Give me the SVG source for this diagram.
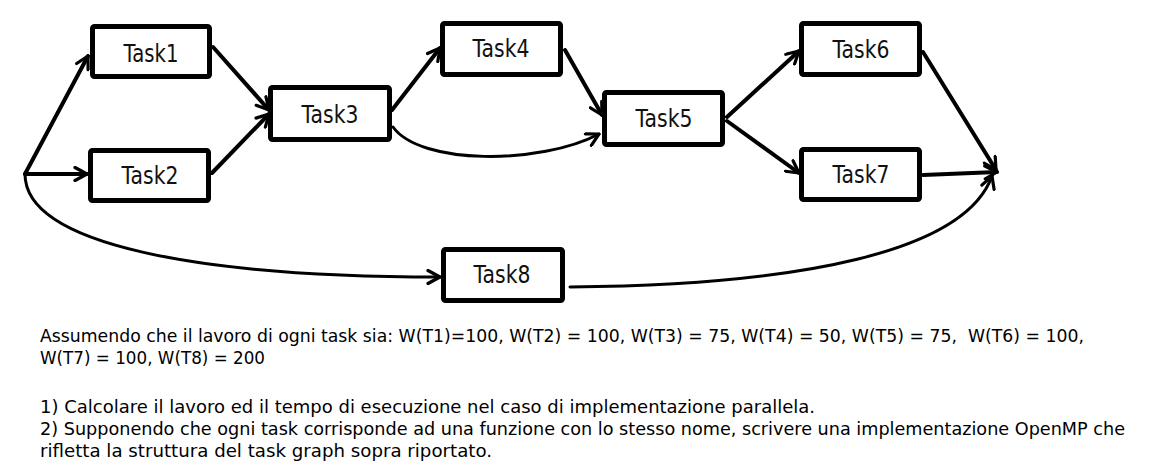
<svg xmlns="http://www.w3.org/2000/svg" width="1153" height="472" viewBox="0 0 1153 472">
<defs>
<style>
.box{fill:#fff;stroke:#000;stroke-width:5;stroke-linejoin:round}
.lbl{font-family:"DejaVu Sans",sans-serif;font-size:25px;fill:#111;text-anchor:middle}
.e{fill:none;stroke:#000;stroke-width:4;stroke-linecap:round}
.c{fill:none;stroke:#000;stroke-width:3;stroke-linecap:round}
.txt{font-family:"DejaVu Sans",sans-serif;font-size:18px;fill:#000}
</style>
<marker id="ah" viewBox="0 0 16 16" refX="14" refY="8" markerWidth="16" markerHeight="16" markerUnits="userSpaceOnUse" orient="auto">
<path d="M2,1.5 L14,8 L2,14.5" fill="none" stroke="#000" stroke-width="3.2" stroke-linecap="round" stroke-linejoin="round"/>
</marker>
</defs>
<rect width="1153" height="472" fill="#fff"/>
<g id="connectors">
<path class="e" d="M25,174 L88,56" marker-end="url(#ah)"/>
<path class="e" d="M25,174 L87,174" marker-end="url(#ah)"/>
<path class="e" d="M213,47 L269,110" marker-end="url(#ah)"/>
<path class="e" d="M212,173 L269,114" marker-end="url(#ah)"/>
<path class="e" d="M392,110 L440,48" marker-end="url(#ah)"/>
<path class="c" d="M393,127 C420,165 540,165 599,134" marker-end="url(#ah)"/>
<path class="e" d="M565,50 L602,115" marker-end="url(#ah)"/>
<path class="e" d="M727,117 L799,51" marker-end="url(#ah)"/>
<path class="e" d="M727,121 L799,173" marker-end="url(#ah)"/>
<path class="e" d="M923,52 L996,170" marker-end="url(#ah)"/>
<path class="e" d="M923,175 L997,172" marker-end="url(#ah)"/>
<path class="c" d="M25,174 C25,245 200,277 440,277" marker-end="url(#ah)"/>
<path class="c" d="M570,287 C800,285 965,252 992,176" marker-end="url(#ah)"/>
</g>
<g id="task1"><rect class="box" x="92.5" y="26.5" width="117" height="50" rx="2"/><text class="lbl" x="151" y="62" textLength="55" lengthAdjust="spacingAndGlyphs">Task1</text></g>
<g id="task2"><rect class="box" x="90.5" y="150.5" width="118" height="50" rx="2"/><text class="lbl" x="150" y="184" textLength="57" lengthAdjust="spacingAndGlyphs">Task2</text></g>
<g id="task3"><rect class="box" x="270.5" y="87.5" width="119" height="52" rx="2"/><text class="lbl" x="330" y="123" textLength="57" lengthAdjust="spacingAndGlyphs">Task3</text></g>
<g id="task4"><rect class="box" x="442.5" y="23.5" width="118" height="51" rx="2"/><text class="lbl" x="501" y="57" textLength="57" lengthAdjust="spacingAndGlyphs">Task4</text></g>
<g id="task5"><rect class="box" x="604.5" y="92.5" width="118" height="52" rx="2"/><text class="lbl" x="664" y="127" textLength="57" lengthAdjust="spacingAndGlyphs">Task5</text></g>
<g id="task6"><rect class="box" x="801.5" y="23.5" width="118" height="51" rx="2"/><text class="lbl" x="861" y="58" textLength="57" lengthAdjust="spacingAndGlyphs">Task6</text></g>
<g id="task7"><rect class="box" x="801.5" y="149.5" width="118" height="50" rx="2"/><text class="lbl" x="861" y="183" textLength="57" lengthAdjust="spacingAndGlyphs">Task7</text></g>
<g id="task8"><rect class="box" x="443.5" y="249.5" width="119" height="51" rx="2"/><text class="lbl" x="502" y="283" textLength="57" lengthAdjust="spacingAndGlyphs">Task8</text></g>
<g id="description">
<text class="txt" x="40" y="342" textLength="1044" lengthAdjust="spacingAndGlyphs" xml:space="preserve">Assumendo che il lavoro di ogni task sia: W(T1)=100, W(T2) = 100, W(T3) = 75, W(T4) = 50, W(T5) = 75,  W(T6) = 100,</text>
<text class="txt" x="40" y="364" textLength="225" lengthAdjust="spacingAndGlyphs">W(T7) = 100, W(T8) = 200</text>
<text class="txt" x="40" y="413" textLength="775" lengthAdjust="spacingAndGlyphs">1) Calcolare il lavoro ed il tempo di esecuzione nel caso di implementazione parallela.</text>
<text class="txt" x="40" y="435" textLength="1085" lengthAdjust="spacingAndGlyphs">2) Supponendo che ogni task corrisponde ad una funzione con lo stesso nome, scrivere una implementazione OpenMP che</text>
<text class="txt" x="40" y="457" textLength="452" lengthAdjust="spacingAndGlyphs">rifletta la struttura del task graph sopra riportato.</text>
</g>
</svg>
